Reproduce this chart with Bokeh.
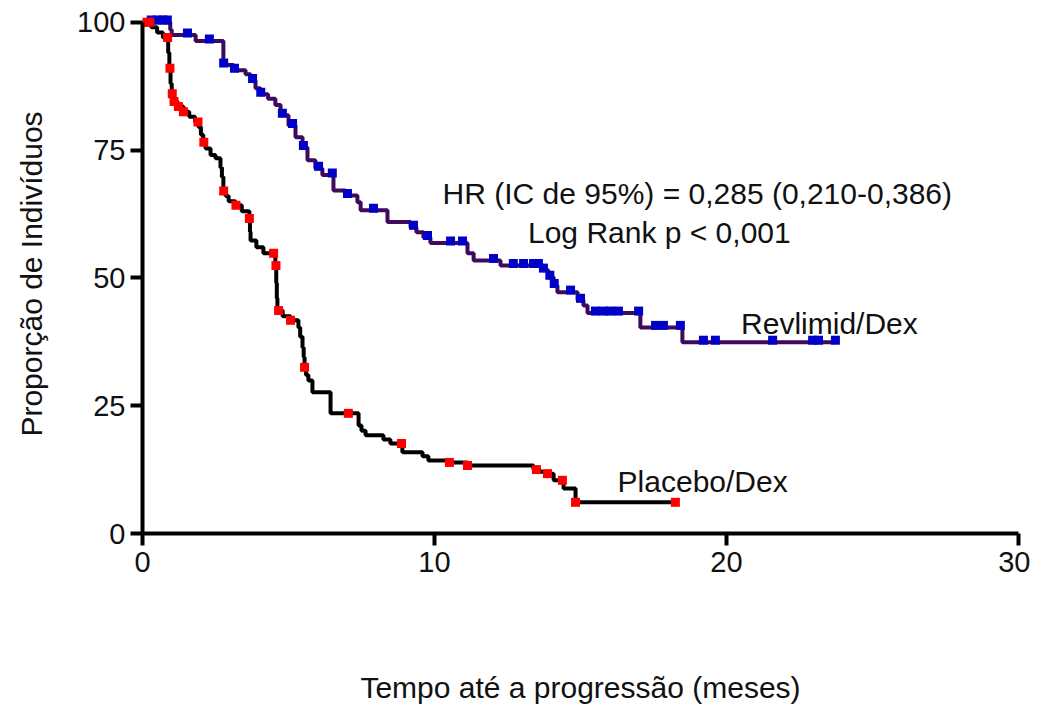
import numpy as np
from bokeh.plotting import figure
from bokeh.models import Range1d, FixedTicker, Label
from bokeh.embed import file_html
from bokeh.resources import INLINE

# ---------------- data ----------------
# Placebo/Dex Kaplan-Meier steps (months, % free of progression)
placebo_t = [0, 0.3, 0.5, 0.7, 0.88, 0.92, 0.96, 1.0, 1.05, 1.2, 1.4, 1.6, 1.8, 1.92,
             2.0, 2.08, 2.16, 2.33, 2.5, 2.67, 2.72, 2.77, 2.85, 2.95, 3.18, 3.4, 3.66,
             3.68, 3.7, 3.9, 4.14, 4.55, 4.58, 4.6, 4.62, 4.8, 5.07, 5.34, 5.4, 5.48,
             5.52, 5.55, 5.6, 5.68, 5.82, 6.44, 7.4, 7.5, 7.64, 8.25, 8.49, 8.9, 9.59,
             9.79, 10.48, 11.13, 13.39, 13.6, 13.87, 14.08, 14.42, 14.83, 18.25]
placebo_s = [100, 99, 98, 97, 94, 91, 88, 86, 84.5, 83.5, 82.5, 81.5, 80.5, 79.5,
             78, 76.5, 75.3, 74, 73.4, 71.6, 69.7, 67, 66, 65, 64.2, 63, 61.6,
             59, 57.3, 56, 54.8, 52.4, 49, 46, 43.6, 42.5, 41.7, 40.3, 38.5, 36.4,
             34.5, 32.5, 31, 29.9, 27.6, 23.5, 21.1, 20.1, 19.2, 18.4, 17.6, 15.9, 15.1,
             14.3, 13.9, 13.3, 12.5, 12.1, 11.7, 10.4, 8.8, 6.1, 6.1]
placebo_censored = [0.05, 0.25, 0.86, 0.94, 1.02, 1.08, 1.23, 1.4, 1.9, 2.1, 2.78, 3.2,
                    3.66, 4.49, 4.57, 4.66, 5.07, 5.55, 7.05, 8.87, 10.51, 11.13, 13.49,
                    13.87, 14.38, 14.83, 18.25]

# Revlimid/Dex Kaplan-Meier steps
revlimid_t = [0, 0.95, 1.0, 1.82, 2.77, 3.12, 3.53, 3.70, 3.87, 4.04, 4.3, 4.55, 4.73,
              5.0, 5.24, 5.48, 5.65, 5.92, 6.16, 6.54, 6.95, 7.36, 7.47, 8.39, 9.18,
              9.38, 9.62, 9.86, 11.13, 11.34, 12.26, 13.73, 13.9, 14.08, 14.21, 14.9,
              15.1, 15.24, 17.05, 18.49, 23.73]
revlimid_s = [100, 98.5, 97.5, 96.3, 91.6, 90.6, 89.8, 88.6, 87.1, 85.9, 85, 83.8, 81.8,
              79.8, 77.5, 75.5, 73, 71.4, 70.1, 67.1, 66.1, 64.8, 63.2, 60.9, 59.9,
              58.9, 57.9, 56.8, 54.8, 53.4, 52.4, 51.5, 50.1, 48.5, 47.2, 45.6,
              44.6, 43.1, 40.3, 37.4, 37.4]
revlimid_censored = [0.3, 0.5, 0.7, 0.85, 1.54, 2.29, 2.78, 3.15, 3.77, 4.05, 4.79, 5.14,
                     5.51, 6.03, 6.5, 7.02, 7.91, 9.28, 9.76, 10.55, 10.96, 12.02, 12.7,
                     13.05, 13.39, 13.56, 13.73, 13.95, 14.1, 14.66, 15.0, 15.51, 15.79,
                     16.03, 16.3, 16.99, 17.57, 17.84, 18.42, 19.21, 19.62, 21.58, 22.95,
                     23.15, 23.73]

x_ticks = [0, 10, 20, 30]
y_ticks = [0, 25, 50, 75, 100]
x_label = "Tempo até a progressão (meses)"
y_label = "Proporção de Indivíduos"
hr_text = "HR (IC de 95%) = 0,285 (0,210-0,386)"
logrank_text = "Log Rank p < 0,001"
revlimid_name = "Revlimid/Dex"
placebo_name = "Placebo/Dex"


def level_at(times, surv, pts):
    t = np.asarray(times)
    s = np.asarray(surv)
    idx = np.searchsorted(t, np.asarray(pts), side="right") - 1
    return s[np.clip(idx, 0, len(s) - 1)]


FONT = "Liberation Sans"

p = figure(width=1030, height=708,
           x_range=Range1d(0, 30), y_range=Range1d(0, 101.5),
           output_backend="svg", toolbar_location=None,
           min_border_left=142, min_border_right=12,
           min_border_top=14, min_border_bottom=175)
p.outline_line_color = None
p.xgrid.visible = False
p.ygrid.visible = False
p.background_fill_color = "white"

# curves
p.step(revlimid_t, revlimid_s, mode="after", line_color="#3d0a5c", line_width=4)
p.step(placebo_t, placebo_s, mode="after", line_color="black", line_width=4)

# censor marks
p.scatter(revlimid_censored, level_at(revlimid_t, revlimid_s, revlimid_censored) + 0.4,
          marker="square", size=9, fill_color="#0000c8", line_color=None)
p.scatter(placebo_censored, level_at(placebo_t, placebo_s, placebo_censored),
          marker="square", size=9, fill_color="#ff0000", line_color=None)

# axes
for ax in (p.xaxis[0], p.yaxis[0]):
    ax.axis_line_width = 4
    ax.axis_line_color = "black"
    ax.major_tick_line_width = 4
    ax.major_tick_line_color = "black"
    ax.major_tick_out = 12
    ax.major_tick_in = 0
    ax.minor_tick_out = 0
    ax.minor_tick_in = 0
    ax.major_label_text_font = FONT
    ax.major_label_text_font_size = "29px"
    ax.major_label_text_color = "#111111"
    ax.axis_label_text_font = FONT
    ax.axis_label_text_font_size = "30px"
    ax.axis_label_text_font_style = "normal"
    ax.axis_label_text_color = "#111111"

p.xaxis.ticker = FixedTicker(ticks=x_ticks)
p.yaxis.ticker = FixedTicker(ticks=y_ticks)
p.xaxis.bounds = (0, 30)
p.yaxis.bounds = (0, 100)
p.xaxis.axis_label = x_label
p.yaxis.axis_label = y_label
p.xaxis.major_label_standoff = 6
p.yaxis.major_label_standoff = 5
p.xaxis.axis_label_standoff = 96
p.yaxis.axis_label_standoff = 26

# annotations
for txt, x, y, align in [(hr_text, 19.0, 66.5, "center"),
                         (logrank_text, 17.7, 58.9, "center"),
                         (revlimid_name, 20.5, 41.1, "left"),
                         (placebo_name, 16.27, 10.2, "left")]:
    p.add_layout(Label(x=x, y=y, text=txt, text_align=align, text_baseline="middle",
                       text_font=FONT, text_font_size="30px", text_color="#111111"))

open("out.html", "w").write(file_html(p, INLINE))
